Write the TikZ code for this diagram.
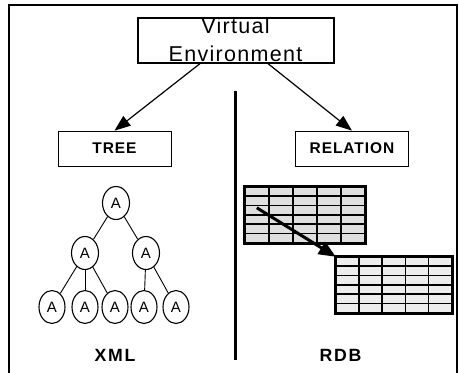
\documentclass[tikz,border=0pt]{standalone}
\usepackage{fontspec}
\setmainfont{Liberation Sans}
\newfontfamily\famVE[LetterSpace=6]{Liberation Sans}
\newfontfamily\famLbl[LetterSpace=6]{Liberation Sans}
\newfontfamily\famBot[LetterSpace=10]{Liberation Sans}
\usetikzlibrary{arrows.meta,shapes.geometric,calc}
\begin{document}
\begin{tikzpicture}[x=1pt,y=-1pt,
  frameline/.style={line width=1.4pt},
  vebox/.style={draw,line width=1.2pt,minimum width=196pt,minimum height=45pt,inner sep=0pt},
  vetext/.style={anchor=base,inner sep=0pt,font=\famVE\fontsize{21.5}{25}\selectfont},
  lblbox/.style={draw,line width=0.7pt,minimum width=113pt,minimum height=35pt,inner sep=0pt,font=\famLbl\bfseries\fontsize{15.5}{18}\selectfont},
  bottxt/.style={anchor=base,inner sep=0pt,font=\famBot\bfseries\fontsize{17.7}{20}\selectfont},
  arr/.style={line width=1.2pt,-{Triangle[length=16pt,width=12pt]}},
  tnode/.style={draw,ellipse,line width=1.1pt,minimum width=26pt,minimum height=33pt,inner sep=0pt,font=\fontsize{15}{17}\selectfont},
  tedge/.style={line width=0.9pt},
  tblfill/.style={inner sep=0pt,minimum width=#1,minimum height=56pt},
  gridl/.style={line width=1.5pt},
  tblborder/.style={line width=3.2pt},
  bigarr/.style={line width=3pt,-{Triangle[length=17pt,width=14pt]}}
]
\useasboundingbox (0,0) rectangle (459,373);
% outer frame (open at bottom)
\draw[frameline] (9,373) -- (9,5) -- (457,5) -- (457,373);
% divider
\draw[line width=3pt] (235,91) -- (235,360);

% top box
\node[vebox] (ve) at (236,40.5) {};
\node[vetext] (v1) at (235.5,33) {Virtual};
\node[vetext] (v2) at (235.5,61) {Environment};

% label boxes
\node[lblbox] (tree) at (114.5,148.5) {TREE};
\node[lblbox] (rel) at (352,148.5) {RELATION};

\draw[arr] ([xshift=-36pt]ve.south) -- ([xshift=0pt]tree.north);
\draw[arr] ([xshift=32pt]ve.south) -- ([xshift=0pt]rel.north);

% tree
\node[tnode,minimum width=27pt] (r) at (116,203) {A};
\node[tnode,minimum width=27pt] (a) at (85,253) {A};
\node[tnode,minimum width=27pt] (b) at (146,253) {A};
\node[tnode] (c1) at (52,307) {A};
\node[tnode] (c2) at (85,307) {A};
\node[tnode] (c3) at (115,307) {A};
\node[tnode] (c4) at (144,307) {A};
\node[tnode] (c5) at (176,307) {A};
\draw[tedge] (r) -- (a);
\draw[tedge] (r) -- (b);
\draw[tedge] (a) -- (c1);
\draw[tedge] (a) -- (c2);
\draw[tedge] (a) -- (c3);
\draw[tedge] (b) -- (c4);
\draw[tedge] (b) -- (c5);

% tables
\node[tblfill=120pt,fill=gray!25] (t1) at (305,215) {};
\foreach \i in {1,...,4} \draw[gridl] ($(t1.north west)+(\i*24,0)$) -- ++(0,56);
\foreach \j in {1,...,5} \draw[gridl] ($(t1.north west)+(0,\j*9.333)$) -- ++(120,0);
\draw[tblborder] (t1.north west) rectangle (t1.south east);

\node[tblfill=116pt,fill=gray!14] (t2) at (394,285) {};
\foreach \i in {1,...,4} \draw[gridl] ($(t2.north west)+(\i*23.2,0)$) -- ++(0,56);
\foreach \j in {1,...,5} \draw[gridl] ($(t2.north west)+(0,\j*9.333)$) -- ++(116,0);
\draw[tblborder] (t2.north west) rectangle (t2.south east);

\coordinate (as) at ($(t1.north west)+(12,21)$);
\draw[bigarr] (as) -- (t2.north west);

% bottom labels
\node[bottxt] (xml) at (115,361) {XML};
\node[bottxt] (rdb) at (340.5,361) {RDB};
\end{tikzpicture}
\end{document}
